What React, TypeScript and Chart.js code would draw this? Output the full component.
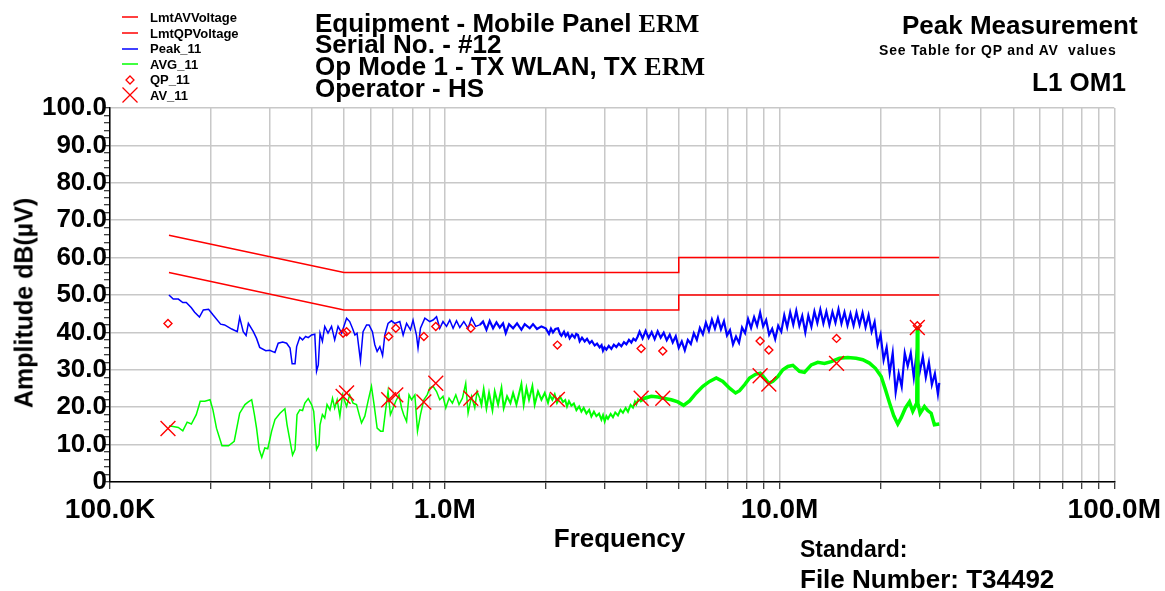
import React, { useEffect, useRef } from 'react';
import { Chart, registerables } from 'chart.js';

Chart.register(...registerables);

// ---------- data (frequency in MHz, amplitude in dB(µV)) ----------
const limitFreqMHz = [0.15, 0.5, 5, 5, 30];
const lmtAVVoltage = [56, 46, 46, 50, 50];
const lmtQPVoltage = [66, 56, 56, 60, 60];

const peakPoints: [number, number][] = [
  [0.150, 50.0], [0.1545, 48.9], [0.160, 48.9], [0.165, 48.0], [0.169, 48.0], [0.175, 46.6], [0.179, 45.4], [0.185, 44.1], [0.190, 46.0], [0.197, 46.2],
  [0.203, 44.7], [0.214, 42.2], [0.220, 42.0], [0.231, 40.9], [0.240, 40.2], [0.244, 44.0], [0.250, 40.2], [0.255, 39.2], [0.259, 42.4], [0.268, 40.2],
  [0.274, 38.4], [0.280, 36.0], [0.292, 35.1], [0.300, 35.2], [0.311, 34.6], [0.318, 37.1], [0.328, 37.4], [0.337, 37.1], [0.345, 35.8], [0.350, 31.6],
  [0.357, 31.6], [0.361, 36.2], [0.369, 38.7], [0.376, 38.0], [0.384, 38.9], [0.391, 38.6], [0.400, 39.3], [0.409, 39.5], [0.414, 29.6], [0.419, 31.3],
  [0.424, 39.8], [0.431, 37.6], [0.438, 41.6], [0.448, 39.8], [0.459, 41.6], [0.469, 38.0], [0.480, 41.6], [0.492, 39.8], [0.509, 43.8], [0.520, 42.9],
  [0.530, 41.1], [0.539, 39.3], [0.547, 39.8], [0.560, 32.4], [0.570, 40.2], [0.584, 42.0], [0.594, 42.0], [0.608, 40.2], [0.618, 36.7], [0.628, 34.9],
  [0.640, 36.2], [0.652, 33.8], [0.662, 39.3], [0.677, 42.4], [0.693, 43.1], [0.709, 42.4], [0.734, 42.9], [0.751, 39.3], [0.769, 42.4], [0.790, 40.7],
  [0.804, 43.3], [0.823, 39.3], [0.832, 35.8], [0.846, 41.1], [0.872, 43.8], [0.902, 42.9], [0.923, 43.3], [0.945, 44.2], [0.966, 41.1], [0.988, 42.9],
  [1.012, 41.6], [1.035, 43.3], [1.059, 41.1], [1.084, 43.1], [1.109, 41.3], [1.140, 42.9], [1.174, 41.1], [1.202, 43.8], [1.237, 41.6], [1.272, 42.0],
  [1.301, 42.9], [1.332, 40.7], [1.362, 43.1], [1.394, 41.1], [1.427, 42.7], [1.460, 41.3], [1.493, 42.4], [1.521, 39.8], [1.556, 42.2], [1.600, 41.1],
  [1.644, 42.4], [1.694, 40.7], [1.733, 42.2], [1.794, 41.1], [1.835, 42.2], [1.886, 40.9], [1.944, 41.6], [2.002, 41.1], [2.048, 39.6], [2.076, 41.0],
  [2.105, 40.0], [2.140, 40.9], [2.179, 41.1], [2.210, 39.6], [2.231, 39.1], [2.270, 40.2], [2.297, 39.0], [2.330, 39.8], [2.361, 38.4], [2.400, 39.4],
  [2.444, 38.6], [2.470, 39.6], [2.500, 39.3], [2.529, 37.6], [2.570, 38.6], [2.618, 37.6], [2.660, 38.3], [2.709, 37.1], [2.750, 37.7], [2.804, 36.5],
  [2.850, 37.0], [2.902, 36.0], [2.940, 36.6], [2.969, 35.1], [3.000, 36.0], [3.039, 35.4], [3.090, 36.4], [3.145, 35.6], [3.200, 36.7], [3.255, 36.1],
  [3.310, 37.0], [3.369, 36.3], [3.430, 37.4], [3.487, 36.8], [3.550, 38.0], [3.608, 37.3], [3.660, 38.3], [3.716, 37.8], [3.770, 38.9],
  [3.819, 40.2], [3.899, 38.4], [3.981, 40.4], [4.064, 38.5], [4.150, 40.1], [4.236, 38.2], [4.325, 40.3], [4.416, 38.6], [4.508, 39.9], [4.603, 37.9],
  [4.699, 39.4], [4.797, 37.3], [4.898, 39.0], [5.000, 35.9], [5.105, 37.6], [5.212, 35.2], [5.321, 38.0], [5.433, 36.9], [5.546, 39.8], [5.662, 38.0],
  [5.781, 41.2], [5.902, 39.5], [6.026, 42.6], [6.152, 40.4], [6.281, 43.4], [6.412, 41.0], [6.546, 43.8], [6.683, 40.8], [6.823, 43.0], [6.966, 39.2],
  [7.112, 40.6], [7.261, 36.8], [7.413, 38.9], [7.568, 37.2], [7.727, 41.3], [7.889, 39.8], [8.054, 43.6], [8.222, 41.2], [8.395, 44.1], [8.570, 41.8],
  [8.750, 45.3], [8.933, 41.6], [9.120, 43.3], [9.311, 39.4], [9.506, 41.0], [9.705, 38.2], [9.908, 41.8], [10.12, 40.2], [10.33, 44.6], [10.54, 41.4],
  [10.76, 45.4], [10.99, 42.1], [11.22, 45.8], [11.46, 41.8], [11.69, 44.4], [11.94, 40.0], [12.19, 44.5], [12.45, 41.5], [12.71, 45.6], [12.97, 42.5],
  [13.24, 46.1], [13.52, 42.4], [13.80, 45.6], [14.09, 42.0], [14.39, 45.5], [14.69, 42.6], [15.00, 46.2], [15.31, 42.4], [15.63, 45.4], [15.96, 41.9],
  [16.29, 45.0], [16.64, 41.8], [16.98, 45.3], [17.34, 42.0], [17.70, 45.2], [18.07, 41.4], [18.45, 44.6], [18.84, 40.2], [19.23, 42.8], [19.63, 36.6],
  [20.04, 39.4], [20.46, 32.6], [20.89, 36.0], [21.33, 29.2], [21.78, 34.5], [22.23, 24.0], [22.70, 29.0], [23.17, 25.5], [23.66, 34.5], [24.15, 31.0],
  [24.66, 34.5], [25.18, 28.0], [25.70, 35.0], [26.24, 29.5], [26.79, 33.5], [27.35, 28.0], [27.93, 32.0], [28.51, 26.0], [29.11, 29.0], [29.72, 23.5],
  [30.0, 26.5],
];

const avgPoints: [number, number][] = [
  [0.150, 15.0], [0.153, 14.9], [0.160, 14.6], [0.165, 13.7], [0.170, 16.0], [0.175, 15.5], [0.181, 18.0], [0.186, 21.6], [0.192, 21.6], [0.199, 22.0],
  [0.203, 19.3], [0.208, 14.4], [0.216, 9.7], [0.226, 9.7], [0.235, 10.9], [0.244, 18.4], [0.253, 20.7], [0.259, 21.4], [0.265, 22.0], [0.270, 18.0],
  [0.274, 14.4], [0.279, 8.7], [0.284, 6.6], [0.290, 9.1], [0.296, 8.9], [0.304, 13.6], [0.311, 16.7], [0.322, 18.4], [0.333, 19.6], [0.338, 15.3],
  [0.345, 10.9], [0.351, 7.2], [0.357, 8.7], [0.362, 18.0], [0.369, 19.3], [0.376, 19.1], [0.382, 21.1], [0.391, 22.3], [0.400, 20.7], [0.406, 18.9],
  [0.414, 8.7], [0.421, 10.0], [0.424, 15.3], [0.431, 18.0], [0.438, 17.1], [0.445, 20.7], [0.454, 19.3], [0.462, 22.4], [0.469, 19.8], [0.477, 22.0],
  [0.486, 17.6], [0.495, 23.3], [0.509, 20.2], [0.520, 23.3], [0.532, 21.1], [0.545, 20.7], [0.555, 18.0], [0.564, 15.8], [0.577, 17.6], [0.590, 21.6],
  [0.604, 25.6], [0.615, 20.7], [0.628, 14.4], [0.643, 13.6], [0.654, 13.6], [0.667, 19.8], [0.677, 24.2], [0.688, 18.0], [0.701, 19.8], [0.714, 21.6],
  [0.730, 23.3], [0.743, 19.8], [0.754, 18.0], [0.769, 16.2], [0.782, 23.3], [0.796, 22.0], [0.814, 23.3], [0.829, 13.6], [0.846, 18.0], [0.866, 22.0],
  [0.886, 23.3], [0.902, 25.1], [0.923, 25.6], [0.945, 24.2], [0.966, 22.0], [0.988, 22.9], [1.007, 19.8], [1.030, 22.4], [1.054, 21.1], [1.079, 23.3],
  [1.103, 20.7], [1.129, 22.4], [1.155, 26.4], [1.174, 18.4], [1.202, 22.9], [1.229, 19.8], [1.249, 24.2], [1.272, 22.4], [1.287, 20.7], [1.307, 24.7],
  [1.332, 19.8], [1.356, 23.8], [1.388, 19.3], [1.410, 24.2], [1.443, 20.7], [1.477, 25.1], [1.500, 19.8], [1.535, 22.9], [1.571, 21.1], [1.600, 23.8],
  [1.637, 20.7], [1.694, 26.2], [1.721, 20.7], [1.754, 25.1], [1.785, 22.0], [1.827, 25.6], [1.856, 20.7], [1.899, 24.2], [1.944, 22.0], [1.989, 23.8],
  [2.034, 21.2], [2.060, 23.2], [2.096, 22.0], [2.130, 23.4], [2.164, 21.2], [2.210, 22.8], [2.255, 21.4], [2.290, 21.9], [2.318, 20.2], [2.350, 21.6],
  [2.389, 20.4], [2.430, 21.0], [2.473, 19.2], [2.520, 20.2], [2.559, 18.8], [2.600, 19.8], [2.649, 18.3], [2.700, 19.3], [2.741, 17.5], [2.790, 18.8],
  [2.837, 17.6], [2.890, 18.3], [2.937, 16.7], [2.970, 17.9], [3.004, 16.2], [3.040, 17.6], [3.073, 16.9], [3.130, 18.2], [3.180, 17.3], [3.230, 18.6],
  [3.291, 17.8], [3.350, 19.3], [3.406, 18.5], [3.470, 19.8], [3.526, 18.8], [3.590, 20.6], [3.649, 19.9], [3.700, 21.5], [3.735, 20.8], [3.780, 22.1],
  [3.820, 21.6], [3.954, 22.4], [4.140, 22.9], [4.332, 22.7], [4.537, 22.3], [4.750, 22.0], [4.970, 21.4], [5.169, 20.5], [5.386, 21.7], [5.640, 23.8],
  [5.902, 25.6], [6.180, 26.9], [6.471, 27.8], [6.771, 26.9], [7.091, 25.1], [7.391, 23.8], [7.596, 24.4], [7.862, 26.0], [8.137, 27.8], [8.480, 28.8],
  [8.757, 29.1], [9.021, 27.8], [9.292, 26.4], [9.550, 26.9], [9.884, 28.2], [10.23, 30.0], [10.59, 30.9], [10.96, 31.2], [11.47, 29.6], [11.87, 29.3],
  [12.44, 31.3], [13.01, 32.0], [13.62, 31.7], [14.27, 32.2], [15.11, 33.1], [15.99, 33.3], [16.94, 33.1], [17.73, 32.7], [18.56, 31.8], [19.34, 30.4],
  [20.12, 28.2], [20.72, 24.7], [21.30, 21.2], [21.94, 17.7], [22.55, 15.5], [23.09, 17.2], [23.77, 19.8], [24.44, 21.4], [25.00, 18.9], [25.70, 21.1],
  [25.80, 41.6], [25.90, 21.0], [26.30, 18.4], [27.09, 20.2], [27.71, 19.1], [28.37, 18.4], [29.02, 15.3], [30.0, 15.5],
];

const markerFreqMHz = [0.149, 0.497, 0.509, 0.680, 0.714, 0.866, 0.940, 1.196, 2.17, 3.86, 4.48, 8.75, 9.29, 14.8, 25.8];
const qpValues = [42.4, 39.8, 40.2, 38.9, 41.1, 38.9, 41.6, 41.1, 36.6, 35.7, 35.0, 37.7, 35.3, 38.4, 41.8];
const avValues = [14.3, 22.9, 23.8, 22.0, 23.3, 21.4, 26.4, 22.4, 22.1, 22.4, 22.4, 28.4, 26.2, 31.7, 41.3];

const xTickValues = [
  0.1, 0.2, 0.3, 0.4, 0.5, 0.6, 0.7, 0.8, 0.9,
  1, 2, 3, 4, 5, 6, 7, 8, 9,
  10, 20, 30, 40, 50, 60, 70, 80, 90, 100,
];
const xTickLabels: Record<string, string> = { '0.1': '100.0K', '1': '1.0M', '10': '10.0M', '100': '100.0M' };

const titleLines = ['Equipment - Mobile Panel ', 'Serial No. - #12', 'Op Mode 1 - TX WLAN, TX ', 'Operator - HS'];
const titleSerifSuffix = ['ERM', '', 'ERM', ''];
const legendLabels = ['LmtAVVoltage', 'LmtQPVoltage', 'Peak_11', 'AVG_11', 'QP_11', 'AV_11'];

// ---------- styles ----------
const SANS = '"Liberation Sans", Arial, Helvetica, sans-serif';
const SERIF = '"Liberation Serif", "Times New Roman", serif';
const RED = '#ff0000';
const BLUE = '#0000ff';
const GREEN = '#00ff00';

const txt = (left: number, top: number, size: number, extra: React.CSSProperties = {}): React.CSSProperties => ({
  position: 'absolute',
  left,
  top,
  fontFamily: SANS,
  fontWeight: 'bold',
  fontSize: size,
  lineHeight: `${size}px`,
  whiteSpace: 'pre',
  color: '#000',
  ...extra,
});

function LegendIcon({ kind, color }: { kind: string; color: string }) {
  return (
    <svg width={20} height={18} style={{ position: 'absolute', left: 120, top: -9 }}>
      {kind === 'line' && <line x1={2} y1={9} x2={18} y2={9} stroke={color} strokeWidth={1.5} />}
      {kind === 'diamond' && <polygon points="10,5 14,9 10,13 6,9" fill="none" stroke={color} strokeWidth={1.3} />}
      {kind === 'cross' && (
        <g stroke={color} strokeWidth={1.3}>
          <line x1={2.5} y1={1.5} x2={17.5} y2={16.5} />
          <line x1={17.5} y1={1.5} x2={2.5} y2={16.5} />
        </g>
      )}
    </svg>
  );
}

export default function App() {
  const canvasRef = useRef<HTMLCanvasElement>(null);

  useEffect(() => {
    const canvas = canvasRef.current;
    if (!canvas) return;
    const pairs = (f: number[], v: number[]) => f.map((x, i) => ({ x, y: v[i] }));
    const tuples = (p: [number, number][]) => p.map(([x, y]) => ({ x, y }));

    const chart = new Chart(canvas, {
      type: 'line',
      data: {
        datasets: [
          {
            label: 'AV_11',
            data: pairs(markerFreqMHz, avValues),
            showLine: false,
            pointStyle: 'crossRot',
            pointRadius: 10.5,
            pointBorderColor: RED,
            pointBorderWidth: 1.4,
            borderColor: RED,
            order: 0,
          },
          {
            label: 'QP_11',
            data: pairs(markerFreqMHz, qpValues),
            showLine: false,
            pointStyle: 'rectRot',
            pointRadius: 4,
            pointBorderColor: RED,
            pointBackgroundColor: 'rgba(0,0,0,0)',
            pointBorderWidth: 1.4,
            borderColor: RED,
            order: 1,
          },
          {
            label: 'LmtAVVoltage',
            data: pairs(limitFreqMHz, lmtAVVoltage),
            borderColor: RED,
            borderWidth: 1.5,
            pointRadius: 0,
            order: 2,
          },
          {
            label: 'LmtQPVoltage',
            data: pairs(limitFreqMHz, lmtQPVoltage),
            borderColor: RED,
            borderWidth: 1.5,
            pointRadius: 0,
            order: 3,
          },
          {
            label: 'Peak_11',
            data: tuples(peakPoints),
            borderColor: BLUE,
            borderWidth: 1.5,
            pointRadius: 0,
            order: 5,
            segment: {
              borderWidth: (ctx: any) => (ctx.p0.parsed.x >= 1.27 ? 2.2 : 1.5),
            },
          },
          {
            label: 'AVG_11',
            data: tuples(avgPoints),
            borderColor: GREEN,
            borderWidth: 1.5,
            pointRadius: 0,
            order: 4,
            segment: {
              borderWidth: (ctx: any) => (ctx.p0.parsed.x >= 3.8 ? 3.5 : ctx.p0.parsed.x >= 1.27 ? 2 : 1.5),
            },
          },
        ],
      },
      options: {
        responsive: false,
        animation: false,
        devicePixelRatio: 1,
        layout: { padding: { left: 0, right: 50, top: 108, bottom: 0 } },
        plugins: { legend: { display: false }, tooltip: { enabled: false }, title: { display: false } },
        elements: { line: { tension: 0 } },
        scales: {
          x: {
            type: 'logarithmic',
            min: 0.1,
            max: 100,
            afterBuildTicks: (scale: any) => {
              scale.ticks = xTickValues.map((v) => ({ value: v }));
            },
            afterFit: (scale: any) => {
              scale.height = 109;
            },
            ticks: {
              autoSkip: false,
              maxRotation: 0,
              minRotation: 0,
              padding: 4,
              color: '#000',
              font: { family: SANS, size: 28, weight: 'bold' },
              callback: (value: any) => xTickLabels[String(value)] ?? '',
            },
            grid: { color: '#c8c8c8', lineWidth: 1.5, tickColor: '#000', tickLength: 7, tickWidth: 1 },
            border: { color: '#000', width: 1.5 },
          },
          y: {
            type: 'linear',
            min: 0,
            max: 100,
            afterFit: (scale: any) => {
              scale.width = 110;
            },
            ticks: {
              stepSize: 2,
              autoSkip: false,
              padding: -3,
              color: '#000',
              font: { family: SANS, size: 26, weight: 'bold' },
              callback: (value: any) => {
                const v = Number(value);
                if (v % 10 !== 0) return '';
                return v === 0 ? '0' : v.toFixed(1);
              },
            },
            grid: {
              color: (ctx: any) => (ctx.tick && ctx.tick.value % 10 === 0 ? '#c8c8c8' : 'rgba(0,0,0,0)'),
              lineWidth: 1.5,
              tickColor: '#000',
              tickLength: 6,
              tickWidth: 1,
            },
            border: { color: '#000', width: 1.5 },
          },
        },
      } as any,
    });
    return () => chart.destroy();
  }, []);

  const legendKinds = ['line', 'line', 'line', 'line', 'diamond', 'cross'];
  const legendColors = [RED, RED, BLUE, GREEN, RED, RED];
  const legendRowY = [17, 33, 48.5, 64, 79.5, 95];

  return (
    <div style={{ position: 'absolute', left: 0, top: 0, width: 1165, height: 591, background: '#fff', overflow: 'hidden' }}>
      <canvas ref={canvasRef} width={1165} height={591} style={{ position: 'absolute', left: 0, top: 0, width: 1165, height: 591 }} />

      {/* legend */}
      {legendLabels.map((lab, i) => (
        <div key={lab} style={{ position: 'absolute', left: 0, top: legendRowY[i], height: 0 }}>
          <LegendIcon kind={legendKinds[i]} color={legendColors[i]} />
          <div style={txt(150, -7.5, 13, { lineHeight: '15px' })}>{lab}</div>
        </div>
      ))}

      {/* title block */}
      {titleLines.map((line, i) => (
        <div key={i} style={txt(315, 9.7 + i * 21.7, 26)}>
          {line}
          {titleSerifSuffix[i] && <span style={{ fontFamily: SERIF }}>{titleSerifSuffix[i]}</span>}
        </div>
      ))}

      {/* top right */}
      <div style={txt(902, 12.3, 26)}>Peak Measurement</div>
      <div style={txt(879, 43, 14, { letterSpacing: '0.8px' })}>{'See Table for QP and AV  values'}</div>
      <div style={txt(1032, 68.7, 26)}>L1 OM1</div>

      {/* axis titles */}
      <div
        style={txt(24, 303, 25, {
          transform: 'translate(-50%, -50%) rotate(-90deg)',
          lineHeight: '25px',
        })}
      >
        Amplitude dB(µV)
      </div>
      <div style={txt(619.5, 525, 26, { transform: 'translateX(-50%)' })}>Frequency</div>

      {/* bottom right */}
      <div style={txt(800, 537.5, 23)}>Standard:</div>
      <div style={txt(800, 566, 26)}>File Number: T34492</div>
    </div>
  );
}
